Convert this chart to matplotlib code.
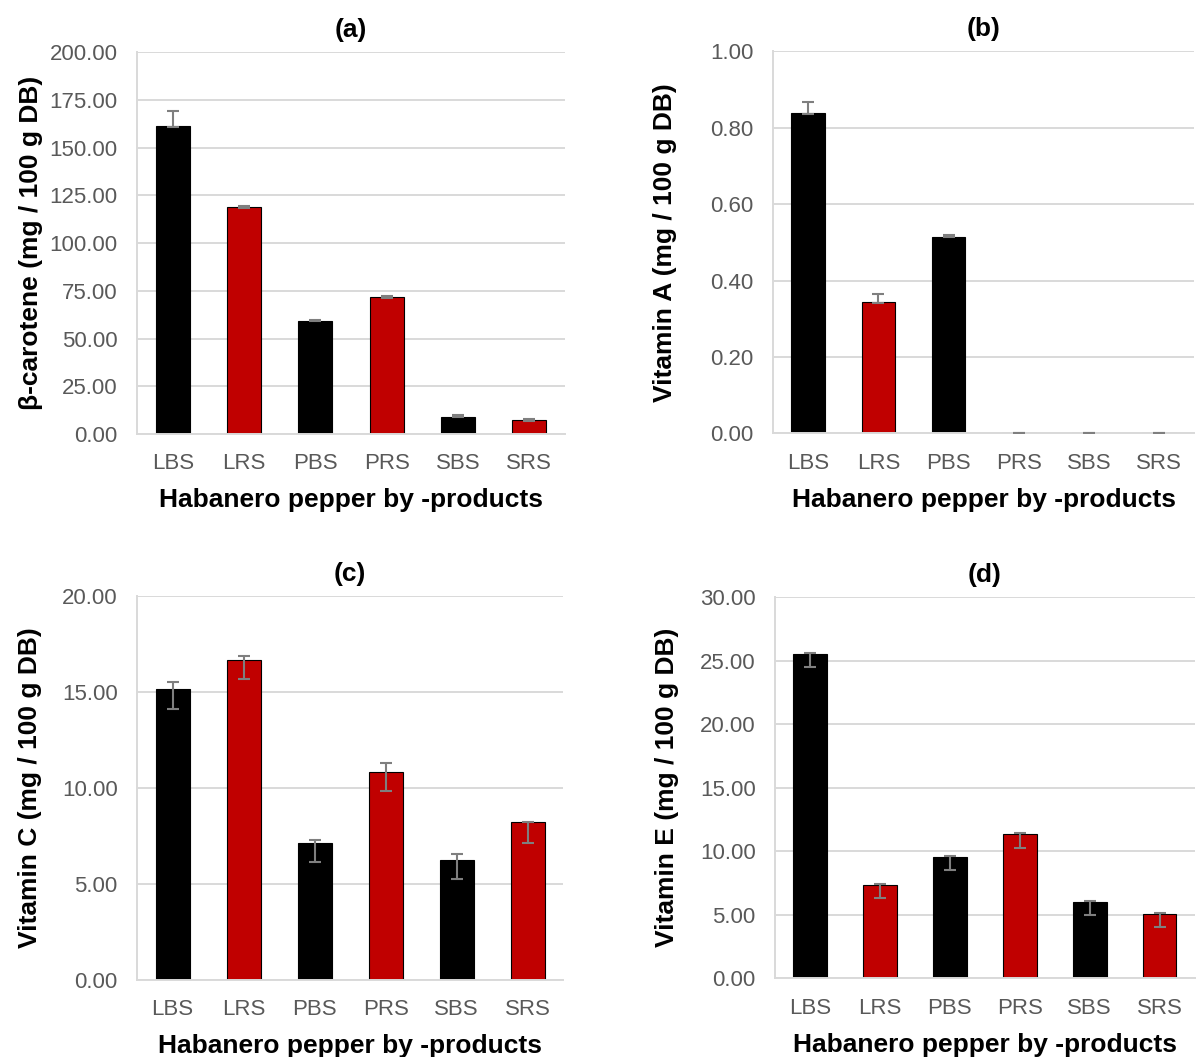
import matplotlib.pyplot as plt
import numpy as np

plt.rcParams['font.family'] = ['Liberation Sans', 'DejaVu Sans']

categories = ['LBS', 'LRS', 'PBS', 'PRS', 'SBS', 'SRS']
bar_colors = ['#000000', '#c00000', '#000000', '#c00000', '#000000', '#c00000']

# (a) beta-carotene
carotene = [161.3, 118.7, 59.2, 71.6, 9.1, 7.2]
carotene_lo = [0.4, 0.2, 0.2, 0.2, 0.2, 0.2]
carotene_hi = [8.0, 0.8, 0.5, 0.4, 0.7, 0.5]

# (b) vitamin A
vit_a = [0.839, 0.345, 0.515, 0.001, 0.001, 0.001]
vit_a_lo = [0.004, 0.004, 0.002, 0.001, 0.001, 0.001]
vit_a_hi = [0.029, 0.021, 0.004, 0.001, 0.001, 0.001]

# (c) vitamin C
vit_c = [15.16, 16.65, 7.14, 10.85, 6.27, 8.21]
vit_c_lo = [1.06, 0.99, 1.01, 0.99, 1.01, 1.06]
vit_c_hi = [0.34, 0.21, 0.17, 0.44, 0.28, 0.03]

# (d) vitamin E
vit_e = [25.54, 7.32, 9.55, 11.34, 6.01, 5.06]
vit_e_lo = [1.04, 1.02, 1.02, 1.06, 1.03, 1.00]
vit_e_hi = [0.06, 0.11, 0.08, 0.08, 0.05, 0.05]

panels = [
    ('(a)', carotene, carotene_lo, carotene_hi, 'β-carotene (mg / 100 g DB)', np.arange(0, 201, 25)),
    ('(b)', vit_a, vit_a_lo, vit_a_hi, 'Vitamin A (mg / 100 g DB)', np.arange(0, 1.01, 0.2)),
    ('(c)', vit_c, vit_c_lo, vit_c_hi, 'Vitamin C (mg / 100 g DB)', np.arange(0, 21, 5)),
    ('(d)', vit_e, vit_e_lo, vit_e_hi, 'Vitamin E (mg / 100 g DB)', np.arange(0, 31, 5)),
]

# axes rectangles and y-label x position (axes fraction)
positions = [
    [0.1145, 0.5894, 0.3575, 0.3614],
    [0.6458, 0.5900, 0.3520, 0.3615],
    [0.1145, 0.0728, 0.3560, 0.3633],
    [0.6475, 0.0745, 0.3505, 0.3607],
]
ylabel_x = [-0.219, -0.227, -0.224, -0.230]

grid_col = '#d9d9d9'
tick_col = '#595959'

fig = plt.figure(figsize=(11.97, 10.57), dpi=100)

for (title, vals, lo, hi, ylab, yticks), pos, lx in zip(panels, positions, ylabel_x):
    ax = fig.add_axes(pos)
    x = np.arange(len(categories))
    ax.bar(x, vals, width=0.48, color=bar_colors, edgecolor='black', linewidth=0.8, zorder=2)
    ax.errorbar(x, vals, yerr=[lo, hi], fmt='none', ecolor='#7f7f7f',
                elinewidth=1.5, capsize=4, capthick=1.5, zorder=3)
    ax.set_xlim(-0.5, len(categories) - 0.5)
    ax.set_ylim(0, yticks[-1])
    ax.set_yticks(yticks)
    ax.set_yticklabels(['%.2f' % v for v in yticks])
    ax.set_xticks(x)
    ax.set_xticklabels(categories)
    ax.yaxis.grid(True, color=grid_col, linewidth=1.4, zorder=0)
    ax.set_axisbelow(True)
    for s in ['top', 'right']:
        ax.spines[s].set_visible(False)
    for s in ['left', 'bottom']:
        ax.spines[s].set_color(grid_col)
        ax.spines[s].set_linewidth(1.4)
    ax.tick_params(axis='both', length=0, labelsize=16, colors=tick_col)
    ax.tick_params(axis='y', pad=14)
    ax.tick_params(axis='x', pad=14)
    ax.set_title(title, fontsize=19, fontweight='bold', pad=11)
    ax.set_xlabel('Habanero pepper by -products', fontsize=19, fontweight='bold', labelpad=10)
    ax.set_ylabel(ylab, fontsize=19, fontweight='bold')
    ax.yaxis.set_label_coords(lx, 0.5)

fig.savefig('out.png', dpi=100)
